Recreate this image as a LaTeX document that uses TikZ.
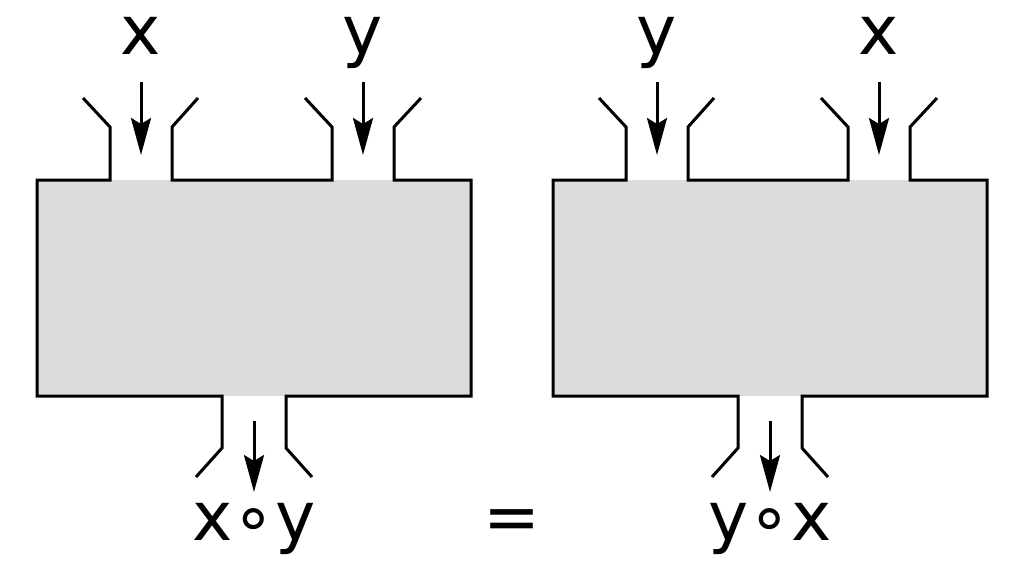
\documentclass[tikz,border=0pt]{standalone}
\usepackage{fontspec}
\setmainfont{DejaVu Sans}
\usetikzlibrary{calc,arrows.meta,positioning}
\definecolor{boxgray}{RGB}{220,220,220}
\tikzset{machine/.style={rectangle, fill=boxgray, minimum width=434pt, minimum height=216pt, inner sep=0pt},
  wall/.style={line width=3pt, line join=miter},
  flow/.style={line width=3pt, -{Stealth[length=37pt,width=20pt,inset=6pt]}},
  var/.style={font=\fontsize{68}{68}\selectfont, inner sep=0pt, anchor=base}}

\begin{document}
\begin{tikzpicture}[x=1pt,y=-1pt]
    \useasboundingbox (0,0) rectangle (1024,586);
    \foreach \b/\cx/\first/\second/\res in {L/254/x/y/x∘y, R/770/y/x/y∘x}{
    \begin{scope}[shift={(\cx,0)}]
        \node[machine] (\b) at (0,288) {};
        % box outline with the three openings
        \draw[wall] (-171,98) -- (-144,127) -- (-144,180) -- (-217,180) -- (-217,396) -- (-32,396) -- (-32,448) -- (-58,477);
        \draw[wall] (-56,98) -- (-82,127) -- (-82,180) -- (78,180) -- (78,127) -- (51,98);
        \draw[wall] (167,98) -- (140,127) -- (140,180) -- (217,180) -- (217,396) -- (32,396) -- (32,448) -- (58,477);
        % inputs
        \node[var] (\b in1) at (-113,55) {\first};
        \node[var] (\b in2) at (109,55) {\second};
        \coordinate (\b in1s) at (-113,82);
        \coordinate (\b in1e) at (-113,155);
        \coordinate (\b in2s) at (109,82);
        \coordinate (\b in2e) at (109,155);
        \draw[flow] (\b in1s) -- (\b in1e);
        \draw[flow] (\b in2s) -- (\b in2e);
        % output
        \node[var] (\b out) at (0,540) {\res};
        \coordinate (\b outs) at (0,421);
        \coordinate (\b oute) at (0,492);
        \draw[flow] (\b outs) -- (\b oute);
    \end{scope}}
    \node[var] (eq) at (512,540) {=};
\end{tikzpicture}
\end{document}
